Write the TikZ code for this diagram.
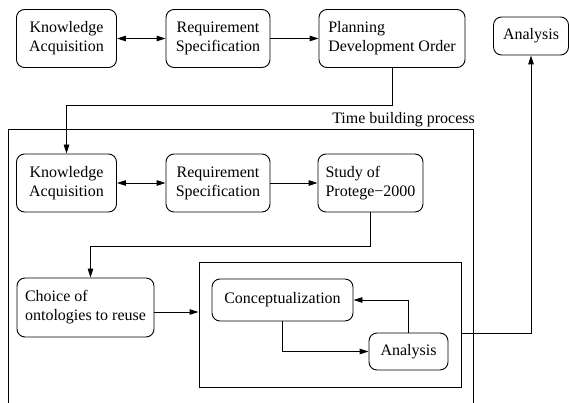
\documentclass[tikz,border=0pt]{standalone}
\usepackage{fontspec}
\setmainfont{Liberation Serif}
\usetikzlibrary{arrows.meta}
\tikzset{
  box/.style={draw, rounded corners=8pt, line width=0.9pt, inner sep=3pt,
    font=\fontsize{16}{19}\selectfont, align=center},
  lbox/.style={box, align=left},
  frame/.style={draw, line width=0.9pt, inner sep=0pt},
  conn/.style={line width=0.9pt, -{Triangle[length=9pt,width=5.5pt]}},
  biconn/.style={line width=0.9pt, {Triangle[length=9pt,width=5.5pt]}-{Triangle[length=9pt,width=5.5pt]}}
}
\begin{document}
\begin{tikzpicture}[x=1pt,y=-1pt]
\useasboundingbox (0,0) rectangle (569,403);
\clip (0,0) rectangle (569,403);

% outer process frame (runs past the lower edge)
\node[frame, minimum width=465pt, minimum height=300pt] (outer) at (240.5,279) {};
\node[anchor=base east, font=\fontsize{16}{19}\selectfont, inner sep=0pt] (otitle) at (475,124) {Time building process};

% top row
\node[box, minimum width=100pt, minimum height=58pt] (ka1) at (66.5,38.5) {Knowledge\\Acquisition};
\node[box, minimum width=104pt, minimum height=58pt] (rs1) at (218,38.5) {Requirement\\Specification};
\node[lbox, minimum width=146pt, minimum height=58pt] (pdo) at (392,38.5) {Planning\\Development Order};
\node[box, minimum width=75pt, minimum height=38pt] (an1) at (531,36) {Analysis};

% second row
\node[box, minimum width=100pt, minimum height=58pt] (ka2) at (66.5,183) {Knowledge\\Acquisition};
\node[box, minimum width=104pt, minimum height=58pt] (rs2) at (218,183) {Requirement\\Specification};
\node[lbox, minimum width=105pt, minimum height=58pt] (st) at (370.5,183) {Study of\\Protege−2000};

% third row
\node[lbox, minimum width=137pt, minimum height=59pt] (ch) at (85.5,307.5) {Choice of\\ontologies to reuse};
\node[frame, minimum width=262pt, minimum height=125pt] (inner) at (330,324.5) {};
\node[box, minimum width=141pt, minimum height=42pt] (co) at (282.5,300) {Conceptualization};
\node[box, minimum width=79pt, minimum height=37pt] (an2) at (408.5,351.5) {Analysis};

% connectors
\draw[biconn] (ka1) -- (rs1);
\draw[conn] (rs1) -- (pdo);
\draw[conn] (pdo.south) -- ++(0,38) -| (ka2.north);
\draw[biconn] (ka2) -- (rs2);
\draw[conn] (rs2) -- (st);
\draw[conn] (st.south) -- ++(0,34) -| ([xshift=5pt]ch.north);
\draw[conn] ([yshift=-4.5pt]ch.east) -- ([yshift=-4.5pt]ch.east -| inner.west);
\draw[conn] (co.south) |- (an2.west);
\draw[conn] (an2.north) |- (co.east);
\draw[conn] ([yshift=-8.5pt]inner.east) -| (an1.south);
\end{tikzpicture}
\end{document}
